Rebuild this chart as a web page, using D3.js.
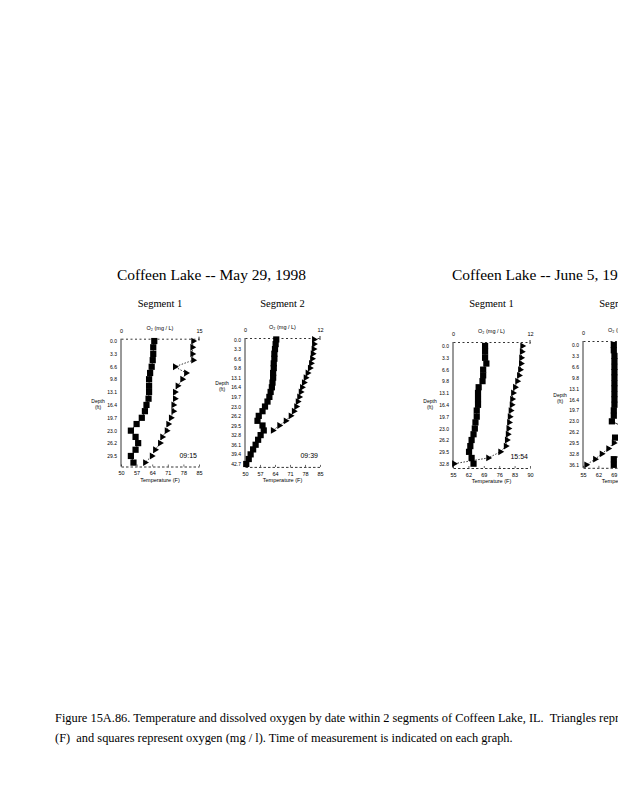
<!DOCTYPE html>
<html><head><meta charset="utf-8">
<script src="https://cdn.jsdelivr.net/npm/d3@7"></script>
<style>body{margin:0;background:#fff}svg{display:block}</style>
</head><body>
<script>
// ---------------- data ----------------
const titles = ["Coffeen Lake -- May 29, 1998", "Coffeen Lake -- June 5, 1998"];
const segmentNames = ["Segment 1", "Segment 2", "Segment 1", "Segment 2"];
const times = ["09:15", "09:39", "15:54", ""];
const oxygenLabel = "O\u2082 (mg / L)";
const tempLabel = "Temperature (F)";
const depthLabel = ["Depth", "(ft)"];
const captionLines = [
  "Figure 15A.86. Temperature and dissolved oxygen by date within 2 segments of Coffeen Lake, IL.  Triangles represent temperature",
  "(F)  and squares represent oxygen (mg / l). Time of measurement is indicated on each graph."
];

const depthTicks1 = [0.0, 3.3, 6.6, 9.8, 13.1, 16.4, 19.7, 23.0, 26.2, 29.5];
const depthTicks2 = [0.0, 3.3, 6.6, 9.8, 13.1, 16.4, 19.7, 23.0, 26.2, 29.5, 32.8, 36.1, 39.4, 42.7];
const depthTicks3 = [0.0, 3.3, 6.6, 9.8, 13.1, 16.4, 19.7, 23.0, 26.2, 29.5, 32.8];
const depthTicks4 = [0.0, 3.3, 6.6, 9.8, 13.1, 16.4, 19.7, 23.0, 26.2, 29.5, 32.8, 36.1];
const tempTicksMay = [50, 57, 64, 71, 78, 85];
const tempTicksJune = [55, 62, 69, 76, 83, 90];
const oxygenTicks1 = [0, 15];
const oxygenTicks2 = [0, 12];

// May 29, Segment 1
const p1Depth  = [0, 1.6, 3.3, 4.9, 6.6, 8.2, 9.8, 11.5, 13.1, 14.8, 16.4, 18.0, 19.7, 21.3, 23.0, 24.6, 26.2, 27.9, 29.5, 31.2];
const p1Oxygen = [6.4, 6.2, 6.2, 6.1, 5.9, 5.6, 5.4, 5.4, 5.4, 5.3, 4.9, 4.6, 4.0, 3.0, 1.9, 2.8, 3.3, 2.8, 1.9, 2.4];
const p1Temp   = [82.4, 82.0, 82.0, 82.4, 74.2, 79.2, 77.5, 75.4, 74.2, 74.2, 73.5, 73.5, 72.4, 71.2, 70.5, 68.5, 67.5, 65.3, 63.8, 60.8];

// May 29, Segment 2
const p2Depth  = [0, 1.6, 3.3, 4.9, 6.6, 8.2, 9.8, 11.5, 13.1, 14.8, 16.4, 18.0, 19.7, 21.3, 23.0, 24.6, 26.2, 27.9, 29.5, 31.2, 32.8, 34.4, 36.1, 37.7, 39.4, 41.0, 42.7];
const p2Oxygen = [5.0, 4.9, 4.8, 4.7, 4.7, 4.6, 4.6, 4.5, 4.5, 4.4, 4.3, 4.1, 3.9, 3.6, 3.2, 2.8, 2.2, 2.0, 2.8, 3.0, 2.5, 2.1, 1.7, 1.3, 0.9, 0.6, 0.2];
const p2TempDepth = [0, 1.6, 3.3, 4.9, 6.6, 8.2, 9.8, 11.5, 13.1, 14.8, 16.4, 18.0, 19.7, 21.3, 23.0, 24.6, 26.2, 27.9, 29.5, 31.2];
const p2Temp   = [82.2, 82.2, 82.0, 81.6, 81.3, 80.8, 80.3, 79.2, 78.3, 77.5, 76.6, 76.0, 75.3, 74.6, 73.9, 72.8, 71.3, 69.0, 66.0, 63.0];

// June 5, Segment 1
const p3Depth  = [0, 1.6, 3.3, 4.9, 6.6, 8.2, 9.8, 11.5, 13.1, 14.8, 16.4, 18.0, 19.7, 21.3, 23.0, 24.6, 26.2, 27.9, 29.5, 31.2, 32.8];
const p3Oxygen = [5.0, 5.0, 5.0, 5.2, 4.7, 4.7, 4.6, 4.0, 3.9, 3.9, 3.9, 3.7, 3.7, 3.5, 3.4, 3.2, 2.9, 2.7, 2.5, 2.9, 3.2];
const p3Temp   = [86.5, 86.3, 86.0, 85.9, 85.5, 85.0, 84.2, 83.2, 82.3, 81.9, 81.7, 81.2, 80.8, 80.5, 80.2, 79.9, 79.5, 79.0, 76.5, 71.0, 55.5];

// June 5, Segment 2 (cut off at the page edge)
const p4Depth  = [0, 1.6, 3.3, 4.9, 6.6, 8.2, 9.8, 11.5, 13.1, 14.8, 16.4, 18.0, 19.7, 21.3, 23.0, 24.6, 26.2, 27.9, 29.5, 31.2, 32.8, 34.4, 36.1];
const p4Oxygen = [4.8, 4.8, 4.9, 4.9, 4.9, 4.9, 4.9, 4.9, 4.9, 4.9, 4.9, 4.9, 4.8, 4.8, 4.5, 6.2, 6.2, 5.0, 6.2, 6.2, 6.2, 4.8, 4.8];
const p4Temp   = [86.4, 86.4, 86.3, 86.2, 86.0, 85.7, 85.4, 85.0, 84.6, 84.2, 83.8, 83.2, 82.5, 81.5, 80.2, 78.5, 75.5, 72.0, 69.0, 66.5, 63.5, 60.5, 56.5];

// ---------------- layout ----------------
const panels = [
  {x0:121, x1:199, yTop:338.7, yBot:466.5, dTop:-0.6, dBot:32.2, o2Max:15, tRange:[50,85],
   depthTicks:depthTicks1, tempTicks:tempTicksMay, o2Ticks:oxygenTicks1,
   oDepth:p1Depth, oVal:p1Oxygen, tDepth:p1Depth, tVal:p1Temp},
  {x0:245, x1:320, yTop:338.0, yBot:466.9, dTop:-0.5, dBot:43.7, o2Max:12, tRange:[50,85],
   depthTicks:depthTicks2, tempTicks:tempTicksMay, o2Ticks:oxygenTicks2,
   oDepth:p2Depth, oVal:p2Oxygen, tDepth:p2TempDepth, tVal:p2Temp},
  {x0:453, x1:530, yTop:342.0, yBot:468.0, dTop:-1.1, dBot:34.0, o2Max:12, tRange:[55,90],
   depthTicks:depthTicks3, tempTicks:tempTicksJune, o2Ticks:oxygenTicks2,
   oDepth:p3Depth, oVal:p3Oxygen, tDepth:p3Depth, tVal:p3Temp},
  {x0:583, x1:660, yTop:341.0, yBot:467.8, dTop:-1.2, dBot:37.0, o2Max:12, tRange:[55,90],
   depthTicks:depthTicks4, tempTicks:tempTicksJune, o2Ticks:oxygenTicks2,
   oDepth:p4Depth, oVal:p4Oxygen, tDepth:p4Depth, tVal:p4Temp}
];

const W = 618, H = 800;
const svg = d3.select("body").append("svg").attr("width", W).attr("height", H)
  .style("font-family", "'Liberation Sans', Arial, sans-serif");
svg.append("rect").attr("width", W).attr("height", H).attr("fill", "#fff");

const serif = "'Liberation Serif', 'Times New Roman', serif";

// Titles
svg.append("text").attr("x", 211.5).attr("y", 280).attr("text-anchor", "middle")
  .style("font-family", serif).style("font-size", "15.5px").text(titles[0]);
svg.append("text").attr("x", 452).attr("y", 280).attr("text-anchor", "start")
  .style("font-family", serif).style("font-size", "15.5px").text(titles[1]);

panels.forEach((p, i) => {
  const g = svg.append("g");
  const y = d3.scaleLinear().domain([p.dTop, p.dBot]).range([p.yTop, p.yBot]);
  const xo = d3.scaleLinear().domain([0, p.o2Max]).range([p.x0, p.x1]);
  const xt = d3.scaleLinear().domain(p.tRange).range([p.x0, p.x1]);
  const cx = (p.x0 + p.x1) / 2;

  // segment name
  g.append("text").attr("x", cx).attr("y", 307).attr("text-anchor", "middle")
    .style("font-family", serif).style("font-size", "10.5px").text(segmentNames[i]);

  // left (depth) axis
  const ax = g.append("g").attr("transform", `translate(${p.x0},0)`)
    .call(d3.axisLeft(y).tickValues(p.depthTicks).tickSize(0).tickPadding(4).tickFormat(d3.format(".1f")));
  ax.select(".domain").remove();
  ax.selectAll("text").style("font-size", "5px").style("font-family", "'Liberation Sans', Arial, sans-serif");
  g.append("line").attr("x1", p.x0).attr("x2", p.x0).attr("y1", p.yTop).attr("y2", p.yBot)
    .attr("stroke", "#000").attr("stroke-width", 0.8);

  // depth title
  const dy = y(16.4);
  depthLabel.forEach((t, k) => {
    g.append("text").attr("x", p.x0 - 23).attr("y", dy - 2 + k * 6).attr("text-anchor", "middle")
      .style("font-size", "5px").text(t);
  });

  // top (oxygen) axis
  const at = g.append("g").attr("transform", `translate(0,${p.yTop})`)
    .call(d3.axisTop(xo).tickValues(p.o2Ticks).tickSize(0).tickPadding(6).tickSizeOuter(0));
  at.select(".domain").attr("stroke-width", 0.8).attr("stroke-dasharray", "2,2.5");
  at.selectAll("text").style("font-size", "5.5px").style("font-family", "'Liberation Sans', Arial, sans-serif");
  g.append("text").attr("x", cx).attr("y", p.yTop - 9).attr("text-anchor", "middle")
    .style("font-size", "5.5px").text(oxygenLabel);
  g.append("line").attr("x1", p.x1).attr("x2", p.x1).attr("y1", p.yTop - 2).attr("y2", p.yTop + 2)
    .attr("stroke", "#000").attr("stroke-width", 0.8);

  // bottom (temperature) axis
  const ab = g.append("g").attr("transform", `translate(0,${p.yBot})`)
    .call(d3.axisBottom(xt).tickValues(p.tempTicks).tickSize(-2).tickPadding(5).tickSizeOuter(0));
  ab.select(".domain").attr("stroke-width", 0.8).attr("stroke-dasharray", "2.5,2");
  ab.selectAll(".tick line").attr("stroke-width", 0.6);
  ab.selectAll("text").style("font-size", "5.5px").style("font-family", "'Liberation Sans', Arial, sans-serif");
  g.append("text").attr("x", cx).attr("y", p.yBot + 15).attr("text-anchor", "middle")
    .style("font-size", "5.5px").text(tempLabel);

  // oxygen series (squares)
  const oData = p.oDepth.map((d, k) => ({d, v: p.oVal[k]}));
  g.append("path").datum(oData)
    .attr("d", d3.line().x(e => xo(e.v)).y(e => y(e.d)))
    .attr("fill", "none").attr("stroke", "#000").attr("stroke-width", 0.8);
  const sq = 6.2;
  g.selectAll(".sq").data(oData).join("rect")
    .attr("x", e => xo(e.v) - sq / 2).attr("y", e => y(e.d) - sq / 2)
    .attr("width", sq).attr("height", sq).attr("fill", "#000");

  // temperature series (triangles)
  const tData = p.tDepth.map((d, k) => ({d, v: p.tVal[k]}));
  g.append("path").datum(tData)
    .attr("d", d3.line().x(e => xt(e.v)).y(e => y(e.d)))
    .attr("fill", "none").attr("stroke", "#000").attr("stroke-width", 0.8)
    .attr("stroke-dasharray", "1.5,1.5");
  const tri = d3.symbol().type(d3.symbolTriangle).size(20);
  g.selectAll(".tri").data(tData).join("path")
    .attr("d", tri)
    .attr("transform", e => `translate(${xt(e.v)},${y(e.d)}) rotate(90)`)
    .attr("fill", "#000");

  // time of measurement
  if (times[i]) {
    g.append("text").attr("x", p.x1 - 2).attr("y", p.yBot - 9).attr("text-anchor", "end")
      .style("font-size", "7px").text(times[i]);
  }
});

// Caption
captionLines.forEach((t, k) => {
  svg.append("text").attr("x", 55).attr("y", 722 + k * 20)
    .style("font-family", serif).style("font-size", "12.4px").style("white-space", "pre").text(t);
});
</script>
</body></html>
